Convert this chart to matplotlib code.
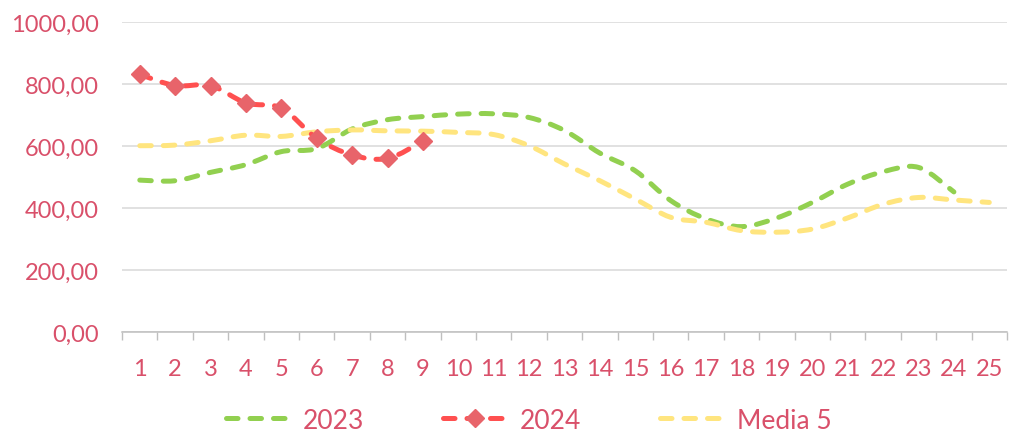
import matplotlib.pyplot as plt
import numpy as np
from matplotlib.lines import Line2D
from matplotlib.patches import PathPatch
from matplotlib.path import Path
from matplotlib.ticker import FixedLocator

plt.rcParams.update({"font.family": ["Lato", "DejaVu Sans"], "font.size": 17})

days = list(range(1, 26))
y2023 = [490, 488, 515, 540, 582, 592, 655, 685, 695, 703, 704, 692, 650, 577,
         520, 424, 365, 340, 368, 418, 477, 517, 531, 452]
y2024 = [831, 795, 795, 739, 722, 625, 571, 560, 616]
media5 = [601, 603, 617, 635, 631, 646, 652, 649, 648, 644, 637, 601, 542, 488,
          429, 370, 354, 327, 322, 332, 368, 412, 434, 426, 418]
yticks = [0, 200, 400, 600, 800, 1000]

text_c = "#D9506A"
green = "#92D050"
red = "#FF5050"
red_mk = "#E8646A"
yellow = "#FFE57F"
DASH = (0, (2.3, 2.4))
LW = 3.6


def smooth_path(xs, ys):
    # excel-like smoothing: cubic bezier, catmull-rom control points
    pts = np.column_stack([xs, ys]).astype(float)
    verts = [pts[0]]
    codes = [Path.MOVETO]
    n = len(pts)
    for i in range(n - 1):
        p0 = pts[max(i - 1, 0)]
        p1 = pts[i]
        p2 = pts[i + 1]
        p3 = pts[min(i + 2, n - 1)]
        verts += [p1 + (p2 - p0) / 6, p2 - (p3 - p1) / 6, p2]
        codes += [Path.CURVE4] * 3
    return Path(verts, codes)


def curve(ax, xs, ys, color):
    ax.add_patch(PathPatch(smooth_path(xs, ys), fill=False, edgecolor=color,
                           linewidth=LW, linestyle=DASH, capstyle="round",
                           joinstyle="round", zorder=3))


fig = plt.figure(figsize=(10.09, 4.35), dpi=100)
ax = fig.add_axes([0.121, 0.2345, 0.877, 0.7125])

curve(ax, days[:len(y2023)], y2023, green)
curve(ax, days, media5, yellow)
curve(ax, days[:len(y2024)], y2024, red)
ax.plot(days[:len(y2024)], y2024, linestyle="none", marker="D", markersize=9,
        color=red_mk, zorder=4)

ax.set_xlim(0.5, 25.5)
ax.set_ylim(0, 1000)
ax.set_xticks(days)
ax.set_xticklabels([str(d) for d in days])
ax.xaxis.set_minor_locator(FixedLocator(np.arange(0.5, 26, 1)))
ax.set_yticks(yticks)
ax.set_yticklabels([f"{v:.2f}".replace(".", ",") for v in yticks])
ax.tick_params(axis="x", which="major", length=0, pad=19, colors=text_c)
ax.tick_params(axis="x", which="minor", length=6, width=1, color="#BFBFBF")
ax.tick_params(axis="y", length=0, pad=17, colors=text_c)
ax.grid(axis="y", color="#D9D9D9", linewidth=1.1)
ax.set_axisbelow(True)
for s in ("top", "right", "left"):
    ax.spines[s].set_visible(False)
ax.spines["bottom"].set_color("#BFBFBF")
ax.spines["bottom"].set_linewidth(1.1)

handles = [
    Line2D([], [], color=green, lw=LW, linestyle=DASH, dash_capstyle="round"),
    Line2D([], [], color=red, lw=LW, linestyle=DASH, dash_capstyle="round",
           marker="D", markersize=9, markerfacecolor=red_mk, markeredgecolor=red_mk),
    Line2D([], [], color=yellow, lw=LW, linestyle=DASH, dash_capstyle="round"),
]
leg = fig.legend(handles, ["2023", "2024", "Media 5"], loc="center",
                 bbox_to_anchor=(0.524, 0.032), ncol=3, frameon=False,
                 fontsize=19, handlelength=2.45, handletextpad=0.45,
                 columnspacing=3.0, numpoints=1)
for t in leg.get_texts():
    t.set_color(text_c)

fig.savefig("out.png", dpi=100)
